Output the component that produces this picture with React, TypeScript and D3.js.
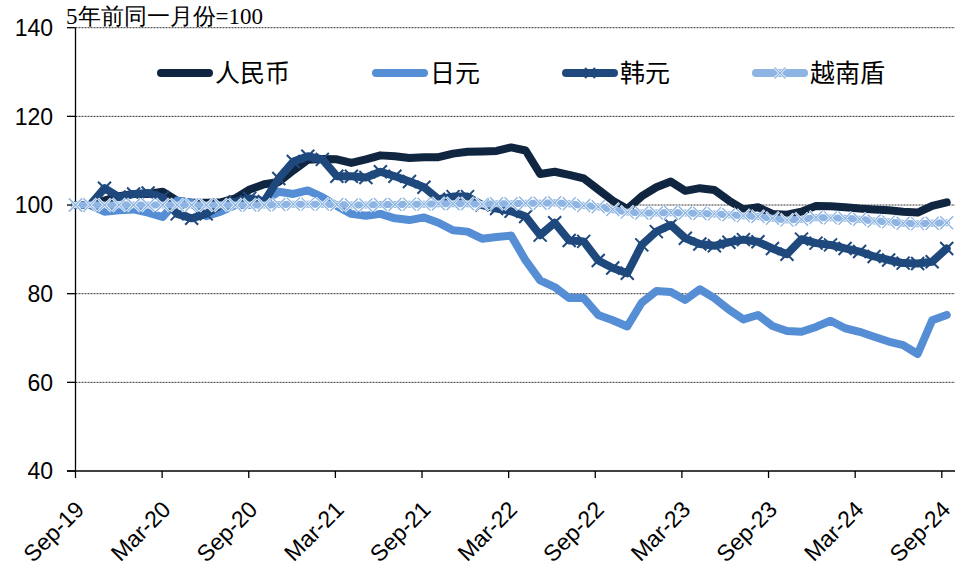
import React from "react";
import * as d3 from "d3";

const tickLabels = ["Sep-19", "Mar-20", "Sep-20", "Mar-21", "Sep-21", "Mar-22", "Sep-22", "Mar-23", "Sep-23", "Mar-24", "Sep-24"];
const yTicks = [40, 60, 80, 100, 120, 140];

const seriesNames = ["人民币", "日元", "韩元", "越南盾"];
const seriesColors = ["#10253f", "#558ed5", "#1f497d", "#8db4e2"];

// Monthly values, Sep-19 .. Sep-24 (61 points)
const cny = [
  100, 100, 101, 102, 102.5, 102.5, 103, 101, 100.5, 100.5, 100.6, 101.5,
  103.5, 104.7, 105.2, 107.8, 110.2, 110.4, 110.3, 109.5, 110.3, 111.2, 111, 110.6,
  110.8, 110.8, 111.6, 112, 112.1, 112.2, 113, 112.3, 107, 107.5, 106.8, 106,
  103.5, 101, 99.1, 102, 104, 105.3, 103.2, 103.8, 103.4, 101, 99, 99.5,
  98, 97.8, 98.5, 99.8, 99.7, 99.5, 99.2, 99, 98.8, 98.5, 98.3, 99.8,
  100.6,
];
const jpy = [
  100, 100, 98.5, 98.8, 99, 98.3, 97.3, 101, 100.5, 97.5, 98.5, 100,
  100, 101, 103, 102.5, 103.3, 101.8, 99.8, 98, 97.6, 98, 97, 96.6,
  97.2, 96, 94.3, 94, 92.4, 92.8, 93.1, 87.5, 83, 81.5, 79, 79,
  75.2, 74, 72.6, 78, 80.6, 80.4, 78.6, 81, 79, 76.4, 74.2, 75.2,
  72.7, 71.6, 71.4, 72.5, 73.9, 72.2, 71.4, 70.3, 69.2, 68.4, 66.4, 74,
  75.2,
];
const krw = [
  100, 100, 103.8, 101.8, 102.5, 102.7, 101.7, 98, 97, 98, 100, 100.7,
  101.5, 100.8, 106, 109.8, 111, 110.3, 106.5, 106.5, 106.2, 107.5, 106.5, 105.3,
  104, 101.3, 101.9, 101.9, 100, 99.2, 98.6, 97.4, 93.2, 96, 92, 91.8,
  87.5, 85.8, 84.6, 91, 94, 95.5, 92.5, 91.2, 90.8, 91.6, 92.2, 91.7,
  90.2, 88.9, 92.3, 91.4, 91, 90.2, 89.5, 88.4, 87.6, 86.9, 86.8, 87.2,
  90.2,
];
const vnd = [
  100, 100, 100, 100, 100, 100, 100, 100, 100, 100, 100, 100,
  100, 100, 100.1, 100.2, 100.2, 100.2, 100.1, 100, 100, 100.1, 100.1, 100.2,
  100.2, 100.3, 100.3, 100.3, 100.2, 100.3, 100.3, 100.4, 100.4, 100.5, 100.3, 99.9,
  99.6, 99, 98.4, 98.2, 98.2, 98.3, 98.2, 98.1, 98, 97.8, 97.6, 97.4,
  97, 96.6, 96.8, 97.2, 97.1, 97, 96.8, 96.4, 96.2, 95.9, 95.8, 95.9,
  96,
];

const W = 955;
const H = 567;
const X0 = 75.5;
const Y0 = 471;
const YTOP = 27.7;

export default function App() {
  const n = cny.length;
  const xData = d3.scaleLinear().domain([0, n - 1]).range([X0, 946.7]);
  const xTick = d3.scaleLinear().domain([0, tickLabels.length - 1]).range([X0, 941.8]);
  const y = d3.scaleLinear().domain([40, 140]).range([Y0, YTOP]);
  const line = d3
    .line<number>()
    .x((_, i) => xData(i))
    .y((v) => y(v));

  const series = [cny, jpy, krw, vnd];
  const widths = [8, 8, 8, 7];
  const cross = (s: number) => `M${-s},${-s}L${s},${s}M${-s},${s}L${s},${-s}`;

  let lx = 157;
  const legendItems = seriesNames.map((name, i) => {
    const item = { name, x: lx, color: seriesColors[i], i };
    lx += 58 + 25 * name.length + 82;
    return item;
  });

  return (
    <svg width={W} height={H} style={{ position: "absolute", left: 0, top: 0, background: "#fff" }}>
      <rect x={0} y={0} width={W} height={H} fill="#fff" />
      {yTicks.filter((t) => t > 40).map((t) => (
        <line key={t} x1={X0} x2={W} y1={y(t)} y2={y(t)} stroke="#333" strokeWidth={1} strokeDasharray="2,1" />
      ))}
      <line x1={X0} x2={X0} y1={YTOP} y2={Y0} stroke="#000" strokeWidth={1.3} />
      <line x1={67} x2={W} y1={Y0} y2={Y0} stroke="#000" strokeWidth={1.3} />
      {yTicks.map((t) => (
        <g key={t}>
          <line x1={67} x2={X0} y1={y(t)} y2={y(t)} stroke="#000" strokeWidth={1.3} />
          <text x={53} y={y(t)} dy="0.36em" textAnchor="end" fontFamily="Liberation Sans, Arial, sans-serif" fontSize={23} fill="#000">
            {t}
          </text>
        </g>
      ))}
      {tickLabels.map((lab, i) => (
        <g key={lab}>
          <line x1={xTick(i)} x2={xTick(i)} y1={Y0} y2={Y0 + 7} stroke="#000" strokeWidth={1.3} />
          <text
            transform={`translate(${xTick(i) + 10},${Y0 + 40}) rotate(-45)`}
            textAnchor="end"
            fontFamily="Liberation Sans, Arial, sans-serif"
            fontSize={23}
            fill="#000"
          >
            {lab}
          </text>
        </g>
      ))}
      <text x={66} y={24} fontFamily="Liberation Serif, Times New Roman, serif" fontSize={23} fill="#000">
        5年前同一月份=100
      </text>
      {series.map((s, si) => (
        <g key={si}>
          <path d={line(s) || ""} fill="none" stroke={seriesColors[si]} strokeWidth={widths[si]} strokeLinejoin="round" strokeLinecap="round" />
          {si === 2 &&
            s.map((v, i) => (
              <path key={i} d={cross(6.5)} transform={`translate(${xData(i)},${y(v)})`} stroke={seriesColors[si]} strokeWidth={2} fill="none" />
            ))}
          {si === 3 &&
            s.map((v, i) => (
              <g key={i} transform={`translate(${xData(i)},${y(v)})`}>
                <path d={cross(6.5)} stroke="#fff" strokeWidth={2.6} fill="none" />
                <path d={cross(6.5)} stroke={seriesColors[si]} strokeWidth={1.3} fill="none" />
              </g>
            ))}
        </g>
      ))}
      {legendItems.map((it) => (
        <g key={it.name}>
          <line x1={it.x + 4} x2={it.x + 52} y1={73} y2={73} stroke={it.color} strokeWidth={8} strokeLinecap="round" />
          {it.i === 2 && <path d={cross(5)} transform={`translate(${it.x + 28},73)`} stroke={it.color} strokeWidth={2} fill="none" />}
          {it.i === 3 && (
            <g transform={`translate(${it.x + 28},73)`}>
              <path d={cross(5.5)} stroke="#fff" strokeWidth={2.6} fill="none" />
              <path d={cross(5.5)} stroke={it.color} strokeWidth={1.3} fill="none" />
            </g>
          )}
          <text x={it.x + 58} y={73} dy="0.36em" fontFamily="Noto Sans CJK SC, sans-serif" fontSize={25} fill="#000">
            {it.name}
          </text>
        </g>
      ))}
    </svg>
  );
}
